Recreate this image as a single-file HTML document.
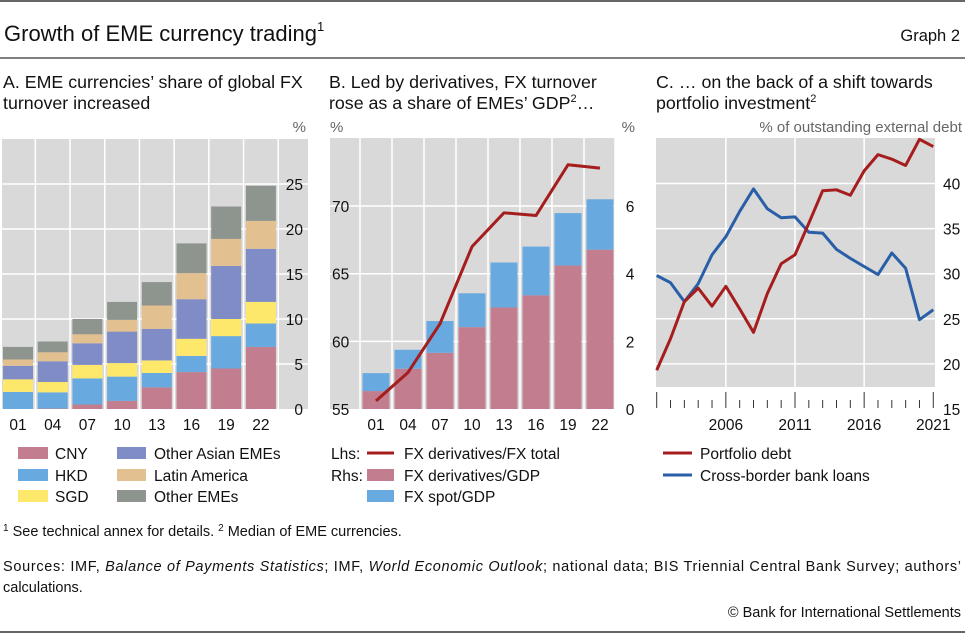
<!DOCTYPE html>
<html><head><meta charset="utf-8"><style>
body{margin:0;background:#fff}
svg{display:block;font-family:"Liberation Sans",sans-serif}
</style></head><body>
<svg id="s" width="965" height="634" viewBox="0 0 965 634" xmlns="http://www.w3.org/2000/svg">
<line x1="0" y1="1" x2="965" y2="1" stroke="#333" stroke-width="1.5"/>
<text x="4" y="41" font-size="22" fill="#111">Growth of EME currency trading<tspan font-size="13" dy="-10">1</tspan></text>
<text x="960" y="41" font-size="16.5" text-anchor="end" fill="#111">Graph 2</text>
<line x1="0" y1="58" x2="965" y2="58" stroke="#333" stroke-width="1.2"/>
<g font-size="17.8" fill="#111">
<text x="3" y="88">A. EME currencies’ share of global FX</text>
<text x="3" y="109">turnover increased</text>
<text x="329" y="88">B. Led by derivatives, FX turnover</text>
<text x="329" y="109">rose as a share of EMEs’ GDP<tspan font-size="11" dy="-7">2</tspan><tspan dy="7">…</tspan></text>
<text x="656" y="88">C. … on the back of a shift towards</text>
<text x="656" y="109">portfolio investment<tspan font-size="11" dy="-7">2</tspan></text>
</g>
<g font-size="15" fill="#666">
<text x="306" y="132" text-anchor="end">%</text>
<text x="330" y="132">%</text>
<text x="635" y="132" text-anchor="end">%</text>
<text x="962" y="132" text-anchor="end">% of outstanding external debt</text>
</g>
<g id="pa"></g><g id="pb"></g><g id="pc"></g>
<g font-size="15.5" fill="#111">
<rect x="18" y="447" width="30" height="12" fill="#c27d8e"/><text x="55" y="459">CNY</text>
<rect x="18" y="469" width="30" height="12" fill="#68aadf"/><text x="55" y="481">HKD</text>
<rect x="18" y="490" width="30" height="12" fill="#fde86b"/><text x="55" y="502">SGD</text>
<rect x="117" y="447" width="29" height="12" fill="#7f8cc6"/><text x="154" y="459">Other Asian EMEs</text>
<rect x="117" y="469" width="29" height="12" fill="#e3c08f"/><text x="154" y="481">Latin America</text>
<rect x="117" y="490" width="29" height="12" fill="#8e958e"/><text x="154" y="502">Other EMEs</text>
<text x="331" y="459">Lhs:</text>
<line x1="367" y1="453" x2="394" y2="453" stroke="#a51d1d" stroke-width="3"/><text x="404" y="459">FX derivatives/FX total</text>
<text x="331" y="481">Rhs:</text>
<rect x="367" y="469" width="27" height="12" fill="#c27d8e"/><text x="404" y="481">FX derivatives/GDP</text>
<rect x="367" y="490" width="27" height="12" fill="#68aadf"/><text x="404" y="502">FX spot/GDP</text>
<line x1="663" y1="453" x2="692" y2="453" stroke="#a51d1d" stroke-width="3"/><text x="700" y="459">Portfolio debt</text>
<line x1="663" y1="475" x2="692" y2="475" stroke="#2a5fa8" stroke-width="3"/><text x="700" y="481">Cross-border bank loans</text>
</g>
<g font-size="14.5" fill="#111">
<text x="3" y="536"><tspan font-size="10" dy="-5">1</tspan><tspan dy="5">  See technical annex for details.    </tspan><tspan font-size="10" dy="-5">2</tspan><tspan dy="5">  Median of EME currencies.</tspan></text>
<text x="3" y="571" textLength="958" lengthAdjust="spacing">Sources: IMF, <tspan font-style="italic">Balance of Payments Statistics</tspan>; IMF, <tspan font-style="italic">World Economic Outlook</tspan>; national data; BIS Triennial Central Bank Survey; authors’</text>
<text x="3" y="592">calculations.</text>
<text x="961" y="617" text-anchor="end">© Bank for International Settlements</text>
</g>
<line x1="0" y1="632" x2="965" y2="632" stroke="#333" stroke-width="1.5"/>
</svg>
<script>
// Panel A data
const catsA = ["01","04","07","10","13","16","19","22"];
const cnyA = [0,0.05,0.5,0.9,2.4,4.1,4.5,6.9];
const hkdA = [1.9,1.8,2.9,2.7,1.6,1.8,3.6,2.6];
const sgdA = [1.4,1.15,1.5,1.5,1.4,1.9,1.9,2.4];
const asiaA = [1.5,2.3,2.4,3.5,3.5,4.4,5.9,5.9];
const latamA = [0.7,1.0,1.0,1.3,2.6,2.9,3.0,3.1];
const otherA = [1.4,1.2,1.7,2.0,2.6,3.3,3.6,3.9];
const ticksA = [0,5,10,15,20,25];
// Panel B data
const catsB = ["01","04","07","10","13","16","19","22"];
const derivB = [0.53,1.19,1.66,2.42,3.0,3.36,4.24,4.71];
const spotB = [0.53,0.56,0.94,1.0,1.33,1.44,1.55,1.49];
const shareB = [55.6,57.7,61.3,67.0,69.5,69.3,73.05,72.8];
const ticksBL = [55,60,65,70];
const ticksBR = [0,2,4,6];
// Panel C data
const yearsC = [2001,2002,2003,2004,2005,2006,2007,2008,2009,2010,2011,2012,2013,2014,2015,2016,2017,2018,2019,2020,2021];
const portC = [19.3,22.8,26.9,28.4,26.4,28.6,26.1,23.5,27.8,31.1,32.1,35.6,39.2,39.3,38.7,41.4,43.2,42.7,42.0,44.9,44.1];
const bankC = [29.8,29.0,26.9,28.9,32.1,34.1,36.9,39.4,37.2,36.2,36.3,34.6,34.5,32.7,31.7,30.8,29.9,32.3,30.6,24.9,26.0];
const ticksC = [15,20,25,30,35,40];
const tickYearsC = [2006,2011,2016,2021];

const NS="http://www.w3.org/2000/svg";
function mk(parent,tag,attrs,text){const e=document.createElementNS(NS,tag);for(const k in attrs)e.setAttribute(k,attrs[k]);if(text!==undefined)e.textContent=text;parent.appendChild(e);return e;}

// ---- Panel A ----
(function(){
const g=document.getElementById('pa');
const y=v=>409-v*9;
const xc=i=>18+i*34.7;
const bg=mk(g,'rect',{x:2,y:139,width:306,height:270,fill:'#d9d9d9'});


ticksA.forEach(t=>{
 if(t>0){const l=mk(g,'line',{x1:2,x2:308,y1:y(t),y2:y(t),stroke:'#fff','stroke-width':1.5});
 
 }
 const tx=mk(g,'text',{x:303,y:y(t)+6,'font-size':15.5,'text-anchor':'end',fill:'#111'},String(t));
 
 
});
catsA.forEach((c,i)=>{
 const vx=xc(i)+17.35;
 const l=mk(g,'line',{x1:vx,x2:vx,y1:139,y2:409,stroke:'#fff','stroke-width':1.5});
 
 
 const tx=mk(g,'text',{x:xc(i),y:430,'font-size':15.5,'text-anchor':'middle',fill:'#111'},c);
 
 
});
const series=[[cnyA,'#c27d8e','cny'],[hkdA,'#68aadf','hkd'],[sgdA,'#fde86b','sgd'],[asiaA,'#7f8cc6','other-asian'],[latamA,'#e3c08f','latin-america'],[otherA,'#8e958e','other-emes']];
catsA.forEach((c,i)=>{
 let base=0;
 series.forEach(([arr,col,nm])=>{
  const v=arr[i];
  const r=mk(g,'rect',{x:xc(i)-15,y:y(base+v),width:30,height:Math.max(0,y(base)-y(base+v)),fill:col});
  
  
  base+=v;
 });
});
})();

// ---- Panel B ----
(function(){
const g=document.getElementById('pb');
const yR=v=>409-v*33.83;
const yL=v=>409-(v-55)*13.53;
const xc=i=>376+i*32;
const bg=mk(g,'rect',{x:330,y:138,width:285,height:271,fill:'#d9d9d9'});


ticksBL.forEach(t=>{
 if(t>55){const l=mk(g,'line',{x1:330,x2:615,y1:yL(t),y2:yL(t),stroke:'#fff','stroke-width':1.5});
 
 }
 const tx=mk(g,'text',{x:332,y:yL(t)+6,'font-size':15.5,fill:'#111'},String(t));
 
 
});
ticksBR.forEach(t=>{
 const tx=mk(g,'text',{x:630,y:yR(t)+6,'font-size':15.5,'text-anchor':'middle',fill:'#111'},String(t));
 
 
});
catsB.forEach((c,i)=>{
 const vx=xc(i)-16;
 const l=mk(g,'line',{x1:vx,x2:vx,y1:138,y2:409,stroke:'#fff','stroke-width':1.5});
 
 
 const tx=mk(g,'text',{x:xc(i),y:430,'font-size':15.5,'text-anchor':'middle',fill:'#111'},c);
 
 
 const r1=mk(g,'rect',{x:xc(i)-13.5,y:yR(derivB[i]),width:27,height:409-yR(derivB[i]),fill:'#c27d8e'});
 
 
 const r2=mk(g,'rect',{x:xc(i)-13.5,y:yR(derivB[i]+spotB[i]),width:27,height:yR(derivB[i])-yR(derivB[i]+spotB[i]),fill:'#68aadf'});
 
 
});
const lastV=615;
const l=mk(g,'line',{x1:lastV,x2:lastV,y1:138,y2:409,stroke:'#fff','stroke-width':1.5});


const p=mk(g,'polyline',{points:shareB.map((v,i)=>xc(i)+','+yL(v)).join(' '),fill:'none',stroke:'#a51d1d','stroke-width':3,'stroke-linejoin':'round'});


})();

// ---- Panel C ----
(function(){
const g=document.getElementById('pc');
const y=v=>409-(v-15)*9.02;
const x=yr=>656.7+(yr-2001)*13.83;
const bg=mk(g,'rect',{x:656,y:138,width:279,height:249,fill:'#d9d9d9'});


ticksC.forEach(t=>{
 if(t>15){const l=mk(g,'line',{x1:656,x2:935,y1:y(t),y2:y(t),stroke:'#fff','stroke-width':1.5});
 
 }
 const tx=mk(g,'text',{x:943,y:y(t)+6,'font-size':15.5,fill:'#111'},String(t));
 
 
});
tickYearsC.forEach(yr=>{
 if(yr<2021){const l=mk(g,'line',{x1:x(yr),x2:x(yr),y1:138,y2:387,stroke:'#fff','stroke-width':1.5});
 
 }
 const tx=mk(g,'text',{x:x(yr),y:430,'font-size':15.5,'text-anchor':'middle',fill:'#111'},String(yr));
 
 
});
yearsC.forEach(yr=>{
 const major=(yr-2001)%5===0;
 const t=mk(g,'line',{x1:x(yr),x2:x(yr),y1:major?392:400,y2:408,stroke:'#333','stroke-width':1});
 
 
});
const pb=mk(g,'polyline',{points:bankC.map((v,i)=>x(yearsC[i])+','+y(v)).join(' '),fill:'none',stroke:'#2a5fa8','stroke-width':3,'stroke-linejoin':'round'});


const pp=mk(g,'polyline',{points:portC.map((v,i)=>x(yearsC[i])+','+y(v)).join(' '),fill:'none',stroke:'#a51d1d','stroke-width':3,'stroke-linejoin':'round'});


})();
</script>
</body></html>
